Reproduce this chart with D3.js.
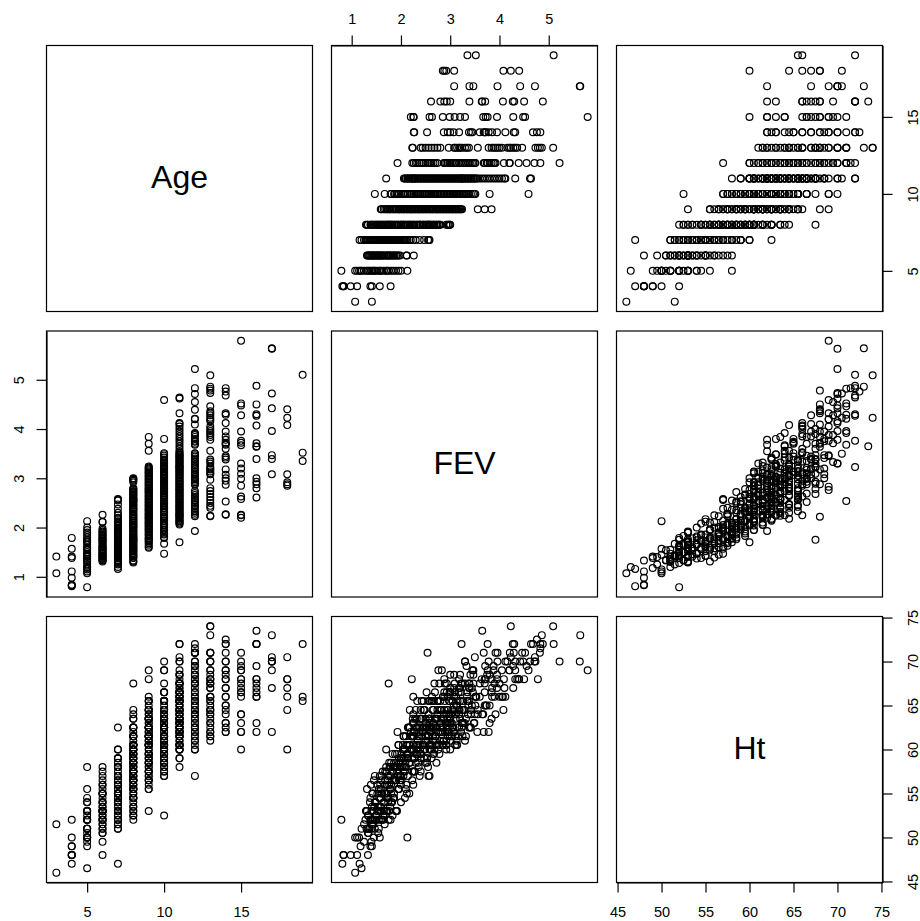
<!DOCTYPE html>
<html>
<head>
<meta charset="utf-8">
<title>FEV pairs</title>
<script src="https://cdn.jsdelivr.net/npm/d3@7"></script>
<style>
    html, body { margin: 0; padding: 0; background: #fff; }
    svg { display: block; }
    text { font-family: "Liberation Sans", Arial, sans-serif; fill: #000; }
</style>
</head>
<body>
<div id="canvas"></div>
<script>
// [FEV, Ht], one list per age
var age3 = [[1.07,46],[1.41,51.5]];
var age4 = [[.81,47],[.83,48],[.84,48],[.98,48],[1.11,48],[1.38,49],[1.41,49],[1.57,50],[1.79,52]];
var age5 = [[.79,52],[1.2,46.5],[1.07,50],[1.11,50],[1.15,50],[1.18,49],[1.25,49.5],[1.3,51],[1.33,50.5],[1.36,51],[1.4,51],[1.42,52],[1.45,50],[1.47,52],[1.5,52.5],[1.55,51],[1.58,53],[1.6,52],[1.65,53],[1.7,58],[1.72,53],[1.75,52],[1.8,54],[1.85,54.5],[1.9,53],[1.95,55.5],[2.0,54],[2.13,50]];
var age6 = [[1.33,48],[1.31,53],[1.34,50.5],[1.36,51],[1.38,52],[1.40,49.5],[1.42,51.5],[1.42,53],[1.44,52],[1.47,51],[1.47,54],[1.5,52.5],[1.52,53],[1.54,50.5],[1.55,52],[1.57,53.5],[1.6,53],[1.6,55],[1.62,52],[1.65,54],[1.67,51.5],[1.7,53],[1.72,55],[1.74,54],[1.76,56],[1.78,53.5],[1.8,55],[1.83,52.5],[1.85,54.5],[1.87,56.5],[1.9,53],[1.92,58],[1.95,55.5],[1.98,57],[2.11,56],[2.12,55],[2.26,57.5]];
var age7 = [[1.16,47],[1.2,51],[1.25,51.5],[1.28,52],[1.3,53],[1.32,51],[1.34,52.5],[1.37,54],[1.38,52],[1.4,53],[1.42,55],[1.44,51.5],[1.46,53.5],[1.48,54],[1.5,52],[1.52,55],[1.54,53],[1.56,54.5],[1.58,56],[1.6,53.5],[1.62,55],[1.64,52.5],[1.66,54],[1.68,56.5],[1.7,55],[1.72,54.5],[1.74,57],[1.76,53],[1.78,55.5],[1.8,56],[1.82,54],[1.84,57.5],[1.86,55],[1.88,58],[1.9,56.5],[1.92,53],[1.94,57],[1.96,55.5],[1.98,58],[2.0,56],[2.03,59],[2.05,57],[2.08,54.5],[2.1,58],[2.13,59],[2.17,55],[2.2,60],[2.25,56],[2.3,58.5],[2.38,57],[2.47,59],[2.55,58],[2.57,62.5],[2.58,60]];
var age8 = [[1.29,53],[1.31,55.5],[1.33,52.5],[1.38,54.5],[1.39,56],[1.41,53.5],[1.43,55],[1.45,56.5],[1.48,54],[1.49,52.5],[1.52,56],[1.53,53.5],[1.55,55.5],[1.57,57],[1.59,54.5],[1.6,56.5],[1.63,57.5],[1.64,52],[1.67,55],[1.68,57.5],[1.71,53],[1.72,56],[1.74,54.5],[1.75,67.5],[1.77,58],[1.78,55.5],[1.8,58.5],[1.82,56.5],[1.83,57.5],[1.86,54.5],[1.87,58],[1.9,56.5],[1.92,59.5],[1.94,57],[1.95,55.5],[1.99,58.5],[2.0,59],[2.01,56.5],[2.04,60.5],[2.05,57.5],[2.06,60],[2.09,58],[2.1,55.5],[2.13,59.5],[2.14,57],[2.17,60.5],[2.18,58.5],[2.2,60],[2.23,56.5],[2.24,61.5],[2.27,59],[2.28,57.5],[2.32,60.5],[2.33,59.5],[2.36,58],[2.37,62],[2.39,59.5],[2.4,57.5],[2.44,60.5],[2.45,62.5],[2.47,60],[2.5,58.5],[2.51,61.5],[2.53,59],[2.55,61.5],[2.56,64],[2.57,60.5],[2.58,57],[2.6,62.5],[2.62,59],[2.65,61],[2.66,64.5],[2.68,60],[2.71,61.5],[2.72,58.5],[2.74,63.5],[2.77,60.5],[2.78,59.5],[2.8,62.5],[2.92,60.5],[2.95,61.5],[2.97,62.5],[2.99,63.5],[3.0,60]];
var age9 = [[1.59,55.5],[1.61,57],[1.65,53],[1.68,56],[1.71,57.5],[1.73,56.5],[1.76,58.5],[1.78,57],[1.79,55.5],[1.83,59.5],[1.85,58],[1.87,56.5],[1.9,58.5],[1.92,57.5],[1.95,60.5],[1.96,58.5],[1.98,56.5],[2.01,59.5],[2.02,58],[2.05,61.5],[2.06,59],[2.08,57.5],[2.11,60.5],[2.12,59.5],[2.14,62.5],[2.17,58.5],[2.18,60.5],[2.2,61.5],[2.22,68],[2.23,59],[2.26,60.5],[2.27,57.5],[2.29,63.5],[2.31,60],[2.34,61.5],[2.35,58.5],[2.37,61.5],[2.39,63.5],[2.41,59.5],[2.44,62.5],[2.45,60.5],[2.47,64.5],[2.5,61],[2.51,62.5],[2.53,59],[2.56,61.5],[2.57,63.5],[2.59,60],[2.62,62.5],[2.63,65.5],[2.65,61.5],[2.67,59.5],[2.7,63.5],[2.71,62],[2.73,60.5],[2.75,65.5],[2.76,69],[2.79,62.5],[2.8,61],[2.82,64.5],[2.85,62.5],[2.86,60.5],[2.88,64.5],[2.91,63],[2.92,61],[2.94,63.5],[2.97,62],[2.98,65.5],[3.0,63.5],[3.03,61.5],[3.04,64.5],[3.06,62.5],[3.09,64],[3.1,60.5],[3.12,66],[3.14,62.5],[3.16,61.5],[3.18,64.5],[3.2,63.5],[3.22,62],[3.24,63],[3.56,64],[3.7,65],[3.84,63.5]];
var age10 = [[1.47,57],[1.67,52.5],[1.79,58],[1.81,57.5],[1.86,58.5],[1.88,59.5],[1.91,58],[1.95,60.5],[1.96,59],[2.0,57],[2.04,60],[2.06,61.5],[2.09,58.5],[2.13,60.5],[2.14,59],[2.18,62.5],[2.21,60],[2.23,57.5],[2.26,61.5],[2.3,59.5],[2.32,63.5],[2.35,60.5],[2.39,62.5],[2.4,59],[2.43,61.5],[2.46,64.5],[2.49,60],[2.5,62.5],[2.53,58.5],[2.56,61.5],[2.57,63.5],[2.6,60.5],[2.62,65.5],[2.65,62.5],[2.66,59.5],[2.69,63.5],[2.7,61],[2.73,62.5],[2.74,65.5],[2.76,60],[2.79,64.5],[2.8,62],[2.82,63.5],[2.83,69],[2.86,61],[2.87,63.5],[2.89,65.5],[2.92,60.5],[2.93,64.5],[2.95,62.5],[2.98,64],[2.99,66.5],[3.01,61],[3.04,62.5],[3.05,65.5],[3.07,62],[3.09,67.5],[3.12,64],[3.13,60.5],[3.15,65.5],[3.18,62.5],[3.19,64.5],[3.21,66.5],[3.24,63],[3.25,61.5],[3.27,64.5],[3.3,70],[3.32,63.5],[3.35,65.5],[3.38,62.5],[3.42,64],[3.46,66.5],[3.49,63],[3.51,65],[3.8,63],[4.59,69]];
var age11 = [[1.7,60],[2.06,58],[2.08,60],[2.1,61.5],[2.13,60.5],[2.14,59],[2.16,62.5],[2.18,64.5],[2.21,61.5],[2.22,60],[2.24,63.5],[2.27,62],[2.25,66],[2.28,59],[2.3,62.5],[2.33,65.5],[2.34,61],[2.36,62.5],[2.39,60],[2.4,63.5],[2.42,65.5],[2.45,62],[2.46,60.5],[2.48,64.5],[2.51,63],[2.52,66.5],[2.54,61],[2.57,63.5],[2.58,65.5],[2.6,62],[2.63,60.5],[2.64,64.5],[2.66,63],[2.69,66.5],[2.7,61.5],[2.72,63.5],[2.75,65.5],[2.76,62],[2.78,67.5],[2.81,63],[2.82,64.5],[2.84,60.5],[2.87,63.5],[2.88,66.5],[2.9,62],[2.93,67.5],[2.94,63],[2.96,64.5],[2.99,61.5],[3.0,66.5],[3.02,64],[3.05,65.5],[3.06,62.5],[3.08,68.5],[3.11,63.5],[3.12,65],[3.14,60.5],[3.17,66.5],[3.18,64],[3.2,65.5],[3.23,62.5],[3.24,67.5],[3.23,72],[3.26,63],[3.29,64.5],[3.3,70],[3.32,61.5],[3.35,66.5],[3.36,64],[3.38,65.5],[3.41,68.5],[3.42,62.5],[3.44,65],[3.47,67.5],[3.48,63],[3.5,70.5],[3.53,66],[3.55,62],[3.6,67.5],[3.65,64],[3.7,66.5],[3.75,68.5],[3.8,65],[3.85,66],[3.9,67.5],[3.95,67],[4.0,66],[4.05,69],[4.1,67],[4.12,66],[4.32,68],[4.62,70],[4.64,72]];
var age12 = [[1.93,62],[2.23,60],[2.26,61.5],[2.3,64.5],[2.33,62.5],[2.38,60.5],[2.42,63.5],[2.46,65.5],[2.5,61.5],[2.54,71],[2.56,57],[2.59,63.5],[2.62,60],[2.66,65.5],[2.7,62.5],[2.74,64.5],[2.87,61],[2.89,67.5],[2.92,64],[2.95,62],[2.98,65.5],[3.0,68.5],[3.03,63],[3.07,64.5],[3.1,66.5],[3.13,61],[3.18,64],[3.22,67.5],[3.26,65.5],[3.29,63],[3.33,69.5],[3.37,65],[3.4,62.5],[3.44,67],[3.47,68.5],[3.5,64],[3.51,66],[3.68,71],[3.7,67.5],[3.74,65],[3.76,72],[3.8,68.5],[3.84,66.5],[3.88,69.5],[3.9,66],[3.92,71],[4.09,68],[4.2,69],[4.21,71],[4.39,68],[4.55,69.5],[4.71,70],[4.83,71.5],[5.22,70]];
var age13 = [[2.23,61.5],[2.24,63],[2.4,64.5],[2.44,62],[2.5,63.5],[2.56,65.5],[2.62,62.5],[2.68,67.5],[2.74,64],[2.8,65.5],[2.97,63],[3.08,66],[3.1,61.5],[3.14,65],[3.18,67],[3.2,68.5],[3.24,64.5],[3.3,61],[3.34,66],[3.38,67.5],[3.56,64.5],[3.78,62],[3.84,68],[3.88,69],[3.92,64],[3.96,71],[4.0,67.5],[4.05,66],[4.16,70],[4.2,69],[4.23,74],[4.28,67],[4.32,70],[4.36,68],[4.46,71],[4.73,70],[4.78,68],[4.82,71],[4.86,73],[5.09,74]];
var age14 = [[2.26,63],[2.27,62],[2.53,62.5],[2.87,64],[2.95,66],[3.0,63],[3.07,65],[3.18,68],[3.38,67],[3.42,64.5],[3.45,69],[3.6,66],[3.68,62],[3.7,68],[3.72,65],[3.78,70],[3.85,67],[3.95,68.5],[4.12,70],[4.29,71],[4.32,69],[4.68,72],[4.76,72.5],[4.83,72]];
var age15 = [[2.2,62],[2.25,64],[2.26,60],[2.58,63],[2.63,66],[2.85,62],[2.99,66.5],[3.09,66.5],[3.2,67],[3.3,67.5],[3.67,64],[3.72,68],[3.76,69],[3.95,68],[4.28,69.5],[4.48,70],[4.52,71],[5.79,69]];
var age16 = [[2.61,62],[2.8,63],[2.88,66],[2.93,66.5],[3.0,67],[3.39,67.5],[3.64,68],[3.65,73.5],[3.71,69.5],[4.07,66],[4.27,72],[4.3,72],[4.5,68],[4.88,72]];
var age17 = [[3.08,62],[3.39,67],[3.47,69],[3.96,70],[4.42,70],[4.72,70.5],[5.63,70],[5.64,73]];
var age18 = [[2.85,66],[2.88,68],[2.92,60],[3.08,67],[4.08,64.5],[4.23,70.5],[4.4,68]];
var age19 = [[3.35,65.5],[3.52,66],[5.1,72]];

var ageGroups = [age3, age4, age5, age6, age7, age8, age9, age10, age11, age12, age13, age14, age15, age16, age17, age18, age19];

var varNames = ["Age", "FEV", "Ht"];
var ageTicks = [5, 10, 15];
var fevTicks = [1, 2, 3, 4, 5];
var htTicks = [45, 50, 55, 60, 65, 70, 75];

var width = 920, height = 921;
var size = 266;
// posicao de cada painel
var colX = [46.5, 331.5, 616.5];
var rowY = [45.5, 331, 616.5];

// monta as linhas {Age, FEV, Ht}
var rows = [];
ageGroups.forEach(function(group, i){
    group.forEach(function(p){
        rows.push({Age: i + 3, FEV: p[0], Ht: p[1]});
    });
});

// eixo como no R: 4% de folga em cada lado
function paddedDomain(name){
    var ext = d3.extent(rows, function(d){ return d[name]; });
    var pad = (ext[1] - ext[0]) * 0.04;
    return [ext[0] - pad, ext[1] + pad];
}

var xScales = {}, yScales = {};
varNames.forEach(function(name){
    xScales[name] = d3.scaleLinear().domain(paddedDomain(name)).range([0, size]);
    yScales[name] = d3.scaleLinear().domain(paddedDomain(name)).range([size, 0]);
});

var svg = d3.select("#canvas").append("svg")
        .attr("width", width)
        .attr("height", height);

varNames.forEach(function(rowName, r){
    varNames.forEach(function(colName, c){
        var g = svg.append("g")
                .attr("transform", "translate(" + colX[c] + "," + rowY[r] + ")");

        if (r === c){
            g.append("text")
                    .attr("x", size / 2)
                    .attr("y", size / 2 - 1.5)
                    .attr("dy", "0.35em")
                    .attr("text-anchor", "middle")
                    .style("font-size", "32px")
                    .text(rowName);
        } else {
            g.selectAll("circle")
                    .data(rows)
                    .enter()
                    .append("circle")
                    .attr("cx", function(d){ return xScales[colName](d[colName]); })
                    .attr("cy", function(d){ return yScales[rowName](d[rowName]); })
                    .attr("r", 3.4)
                    .style("fill", "none")
                    .style("stroke", "#000")
                    .style("stroke-width", 1.2);
        }

        g.append("rect")
                .attr("width", size)
                .attr("height", size)
                .style("fill", "none")
                .style("stroke", "#000")
                .style("stroke-width", 1.2);
    });
});

function styleAxis(g){
    g.selectAll("path, line").style("stroke", "#000").style("stroke-width", 1.2);
    g.selectAll("text").style("font-size", "14.5px").style("font-family", '"Liberation Sans", Arial, sans-serif');
}

// os eixos alternam entre os lados, igual ao pairs()
function bottomAxis(name, ticks, c){
    svg.append("g")
            .attr("transform", "translate(" + colX[c] + "," + (rowY[2] + size) + ")")
            .call(d3.axisBottom(xScales[name]).tickValues(ticks).tickFormat(d3.format("d")).tickSize(10).tickSizeOuter(0).tickPadding(14))
            .call(styleAxis);
}

function topAxis(name, ticks, c){
    svg.append("g")
            .attr("transform", "translate(" + colX[c] + "," + rowY[0] + ")")
            .call(d3.axisTop(xScales[name]).tickValues(ticks).tickFormat(d3.format("d")).tickSize(10).tickSizeOuter(0).tickPadding(12))
            .call(styleAxis);
}

function leftAxis(name, ticks, r){
    var g = svg.append("g")
            .attr("transform", "translate(" + colX[0] + "," + rowY[r] + ")")
            .call(d3.axisLeft(yScales[name]).tickValues(ticks).tickFormat(d3.format("d")).tickSize(10).tickSizeOuter(0))
            .call(styleAxis);
    g.selectAll("text")
            .attr("x", 0)
            .attr("dy", 0)
            .attr("text-anchor", "middle")
            .attr("transform", "translate(-22.5,0) rotate(-90)");
}

function rightAxis(name, ticks, r){
    var g = svg.append("g")
            .attr("transform", "translate(" + (colX[2] + size) + "," + rowY[r] + ")")
            .call(d3.axisRight(yScales[name]).tickValues(ticks).tickFormat(d3.format("d")).tickSize(10).tickSizeOuter(0))
            .call(styleAxis);
    g.selectAll("text")
            .attr("x", 0)
            .attr("dy", 0)
            .attr("text-anchor", "middle")
            .attr("transform", "translate(35,0) rotate(-90)");
}

bottomAxis("Age", ageTicks, 0);
bottomAxis("Ht", htTicks, 2);
topAxis("FEV", fevTicks, 1);
leftAxis("FEV", fevTicks, 1);
rightAxis("Age", ageTicks, 0);
rightAxis("Ht", htTicks, 2);
</script>
</body>
</html>
